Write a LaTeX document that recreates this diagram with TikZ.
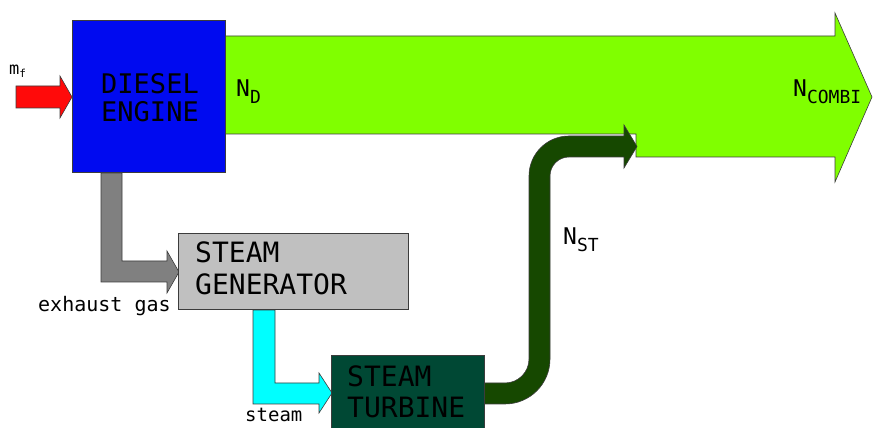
\documentclass[tikz,border=0pt]{standalone}
\usepackage{fontspec}
\setmainfont{DejaVu Sans Mono}
\definecolor{engblue}{RGB}{0,10,240}
\definecolor{powgreen}{RGB}{128,255,0}
\definecolor{fuelred}{RGB}{255,10,10}
\definecolor{gasgray}{RGB}{128,128,128}
\definecolor{gengray}{RGB}{192,192,192}
\definecolor{steamcyan}{RGB}{0,255,255}
\definecolor{turbteal}{RGB}{0,72,52}
\definecolor{stgreen}{RGB}{22,72,0}
\definecolor{edge}{RGB}{60,60,60}
\begin{document}
\begin{tikzpicture}[x=1pt,y=1pt,
  blk/.style={draw=edge,line width=0.8pt,inner sep=0pt,anchor=south west},
  flow/.style={draw=edge,line width=0.6pt,line join=miter},
  boxtxt/.style={inner sep=0pt,anchor=base west,text=black,font=\fontsize{28}{28}\selectfont},
  lbl/.style={inner sep=0pt,anchor=base west,text=black}]
\useasboundingbox (0,0) rectangle (873,428);
\clip (0,0) rectangle (873,428);
% combined power arrow
\path[flow,fill=powgreen] (225,392) -- (835,392) -- (835,415) -- (872,331) -- (835,246) -- (835,271) -- (636,271) -- (636,294) -- (225,294) -- cycle;
% fuel
\path[flow,fill=fuelred] (16,342) -- (60,342) -- (60,352) -- (72,331) -- (60,310) -- (60,320) -- (16,320) -- cycle;
% exhaust gas
\path[flow,fill=gasgray] (101,255) -- (122,255) -- (122,167) -- (167,167) -- (167,177) -- (179,156) -- (167,135) -- (167,146) -- (101,146) -- cycle;
% steam
\path[flow,fill=steamcyan] (253,118) -- (275,118) -- (275,45) -- (319,45) -- (319,55) -- (332,35) -- (319,15) -- (319,24) -- (253,24) -- cycle;
% steam turbine power
\path[flow,fill=stgreen] (484,24) -- (505,24) arc[start angle=-90,end angle=0,radius=45]
  -- (550,252) arc[start angle=180,end angle=90,radius=19]
  -- (624,271) -- (624,260) -- (637,281.5) -- (624,303) -- (624,292) -- (569,292)
  arc[start angle=90,end angle=180,radius=40]
  -- (529,69) arc[start angle=0,end angle=-90,radius=24]
  -- (484,45) -- cycle;
% boxes
\node[blk,fill=engblue,minimum width=153pt,minimum height=152pt] (de) at (72,255) {};
\node[blk,fill=gengray,minimum width=230pt,minimum height=76pt] (sg) at (178,118) {};
\node[blk,fill=turbteal,minimum width=153pt,minimum height=84pt] (st) at (331,-12) {};
% box texts
\node[inner sep=0pt,align=center,font=\fontsize{27}{28}\selectfont] (detxt) at (150,330) {DIESEL\\ENGINE};
\node[boxtxt] (sg1) at (195,165) {STEAM};
\node[boxtxt] (sg2) at (195,133) {GENERATOR};
\node[boxtxt] (st1) at (347,41) {STEAM};
\node[boxtxt] (st2) at (347,10) {TURBINE};
% labels
\node[lbl,font=\fontsize{17}{17}\selectfont] (mf) at (9,353) {m\raisebox{-3pt}{\fontsize{11}{11}\selectfont f}};
\node[lbl,font=\fontsize{23}{23}\selectfont] (nd) at (236,331) {N\raisebox{-7pt}{\fontsize{18}{18}\selectfont D}};
\node[lbl,font=\fontsize{23}{23}\selectfont] (nc) at (793,331) {N\raisebox{-7pt}{\fontsize{18}{18}\selectfont COMBI}};
\node[lbl,font=\fontsize{23}{23}\selectfont] (nst) at (563,183) {N\raisebox{-7pt}{\fontsize{18}{18}\selectfont ST}};
\node[lbl,font=\fontsize{20}{20}\selectfont] (eg) at (38,116) {exhaust gas};
\node[lbl,font=\fontsize{19}{19}\selectfont] (sm) at (245,6) {steam};
\end{tikzpicture}
\end{document}
